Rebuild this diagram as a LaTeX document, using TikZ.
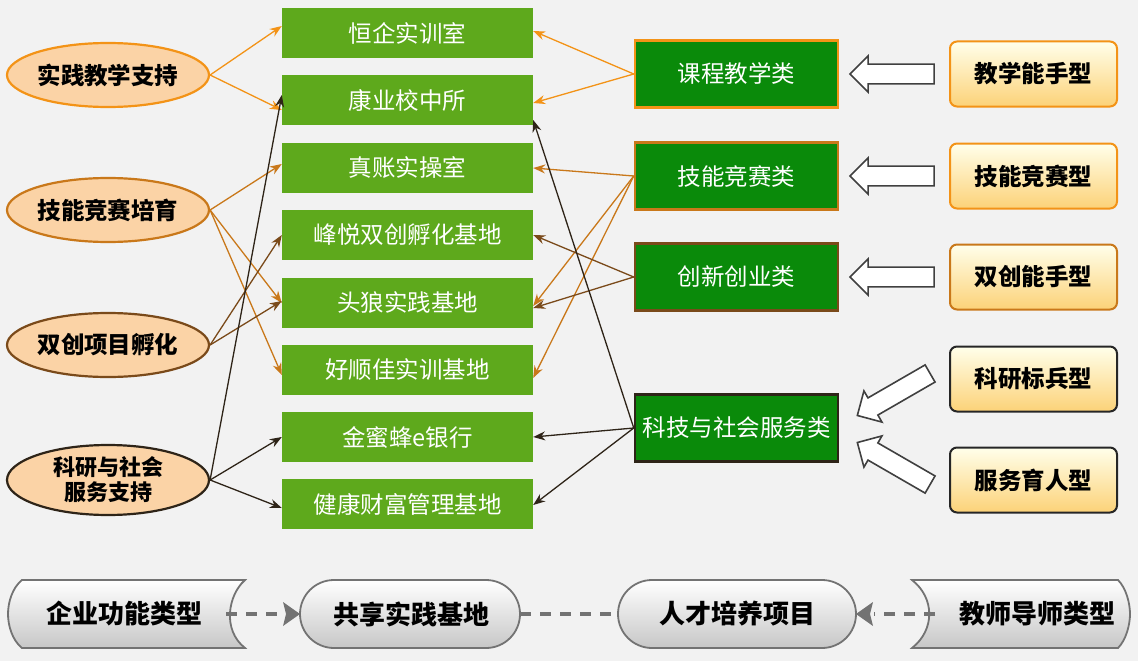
\documentclass[tikz,border=0pt]{standalone}
\usepackage{fontspec}
\setmainfont{Noto Sans CJK SC}
\usetikzlibrary{shapes.arrows,shapes.geometric,arrows.meta}
\definecolor{bg}{HTML}{F2F2F2}
\definecolor{lg}{HTML}{5EA91C}
\definecolor{dg}{HTML}{0A8A0A}
\definecolor{o1}{HTML}{F39317}
\definecolor{o2}{HTML}{C9781A}
\definecolor{o3}{HTML}{7A4A1A}
\definecolor{o4}{HTML}{2E2418}
\definecolor{peach}{HTML}{FBD3A6}
\tikzset{
 cbox/.style={fill=lg,text=white,minimum width=251pt,minimum height=50pt,inner sep=0,font=\fontsize{23.5}{26}\selectfont},
 ell/.style={ellipse,draw=#1,line width=2.2pt,fill=peach,minimum width=202pt,minimum height=64pt,inner sep=0,font=\bfseries\fontsize{23.5}{26}\selectfont,align=center},
 rbox/.style={fill=dg,draw=#1,line width=2.5pt,text=white,minimum width=203pt,minimum height=67pt,inner sep=0,font=\fontsize{23.5}{26}\selectfont},
 ybox/.style={rounded corners=7pt,draw=#1,line width=2pt,top color=yellow!8!white,bottom color={rgb,255:red,252;green,210;blue,120},minimum width=167pt,minimum height=65pt,inner sep=0,font=\bfseries\fontsize{23.5}{26}\selectfont},
 ar/.style={draw=#1,line width=1.3pt,-{Stealth[length=12pt,width=9pt]}},
 hol/.style={single arrow,draw=black!75,line width=1.6pt,fill=white,minimum height=84pt,minimum width=36pt,single arrow head extend=8pt,single arrow tip angle=90,inner sep=9pt},
 gshape/.style={draw=black!55,line width=1.8pt,top color=white,bottom color=black!22},
 gtext/.style={font=\bfseries\fontsize{26}{30}\selectfont,inner sep=0},
 dsh/.style={draw=black!55,line width=4pt,dash pattern=on 11pt off 9pt}
}
\begin{document}
\begin{tikzpicture}[x=1pt,y=-1pt]
\fill[bg] (0,0) rectangle (1138,661);
\useasboundingbox (0,0) rectangle (1138,661);
% center boxes
\node[cbox] (b1) at (407.5,33) {恒企实训室};
\node[cbox] (b2) at (407.5,100) {康业校中所};
\node[cbox] (b3) at (407.5,168) {真账实操室};
\node[cbox] (b4) at (407.5,235) {峰悦双创孵化基地};
\node[cbox] (b5) at (407.5,303) {头狼实践基地};
\node[cbox] (b6) at (407.5,370) {好顺佳实训基地};
\node[cbox] (b7) at (407.5,437) {金蜜蜂e银行};
\node[cbox] (b8) at (407.5,504) {健康财富管理基地};
% left ellipses
\node[ell=o1] (l1) at (108,75) {实践教学支持};
\node[ell=o2] (l2) at (108,210) {技能竞赛培育};
\node[ell=o3] (l3) at (108,345) {双创项目孵化};
\node[ell=o4,minimum height=70pt,font=\bfseries\fontsize{22}{25}\selectfont] (l4) at (108,480) {科研与社会\\服务支持};
% right boxes
\node[rbox=o1] (r1) at (736.5,74) {课程教学类};
\node[rbox=o2] (r2) at (736.5,176) {技能竞赛类};
\node[rbox=o3] (r3) at (736.5,277) {创新创业类};
\node[rbox=o4] (r4) at (736.5,428) {科技与社会服务类};
% far right
\node[ybox=o1] (y1) at (1033.5,74) {教学能手型};
\node[ybox=o1] (y2) at (1033.5,176) {技能竞赛型};
\node[ybox=o2] (y3) at (1033.5,277) {双创能手型};
\node[ybox=black!85] (y4) at (1033.5,379) {科研标兵型};
\node[ybox=black!85] (y5) at (1033.5,480) {服务育人型};
% left arrows
\draw[ar=o1] (l1.east) -- ([yshift=7pt]b1.west);
\draw[ar=o1] (l1.east) -- ([yshift=-10pt]b2.west);
\draw[ar=o2] (l2.east) -- ([yshift=4pt]b3.west);
\draw[ar=o2] (l2.east) -- (b5.west);
\draw[ar=o2] (l2.east) -- ([yshift=-5pt]b6.west);
\draw[ar=o3] (l3.east) -- (b4.west);
\draw[ar=o3] (l3.east) -- ([yshift=2pt]b5.west);
\draw[ar=o4] (l4.east) -- ([yshift=5pt]b2.west);
\draw[ar=o4] (l4.east) -- (b7.west);
\draw[ar=o4] (l4.east) -- ([yshift=-4pt]b8.west);
% right arrows
\draw[ar=o1] (r1.west) -- ([yshift=2pt]b1.east);
\draw[ar=o1] (r1.west) -- ([yshift=-3pt]b2.east);
\draw[ar=o2] (r2.west) -- (b3.east);
\draw[ar=o2] (r2.west) -- ([yshift=-3pt]b5.east);
\draw[ar=o2] (r2.west) -- ([yshift=-8pt]b6.east);
\draw[ar=o3] (r3.west) -- (b4.east);
\draw[ar=o3] (r3.west) -- ([yshift=-5pt]b5.east);
\draw[ar=o4] (r4.west) -- ([yshift=-20pt]b2.east);
\draw[ar=o4] (r4.west) -- (b7.east);
\draw[ar=o4] (r4.west) -- ([yshift=-1pt]b8.east);
% hollow arrows
\node[hol,shape border rotate=180] (h1) at (897,74) {};
\node[hol,shape border rotate=180] (h2) at (897,176) {};
\node[hol,shape border rotate=180] (h3) at (897,277) {};
\node[hol,shape border rotate=180,rotate=30] (h4) at (898,392) {};
\node[hol,shape border rotate=180,rotate=-30] (h5) at (898,466) {};
% bottom row
\path[gshape] (22,580) -- (245,580) .. controls (228,595) and (222,630) .. (245,648) -- (22,648) .. controls (12,640) and (8,625) .. (8,614) .. controls (8,603) and (12,588) .. (22,580) -- cycle;
\node[gtext] (q1) at (124,614) {企业功能类型};
\path[gshape,rounded corners=34pt] (300,580) rectangle (520,648);
\node[gtext] (q2) at (411,614) {共享实践基地};
\path[gshape,rounded corners=34pt] (618,580) rectangle (856,648);
\node[gtext] (q3) at (737,614) {人才培养项目};
\path[gshape] (912,580) -- (1118,580) .. controls (1126,588) and (1130,603) .. (1130,614) .. controls (1130,625) and (1126,640) .. (1118,648) -- (912,648) .. controls (935,630) and (935,598) .. (912,580) -- cycle;
\node[gtext] (q4) at (1037,614) {教师导师类型};
\coordinate (e1) at (226,614); \coordinate (e2) at (300,614);
\coordinate (e3) at (520,614); \coordinate (e4) at (618,614);
\coordinate (e5) at (856,614); \coordinate (e6) at (935,614);
\draw[dsh] (e1) -- (283,614);
\fill[black!55] (e2) -- (283,602) -- (286,614) -- (283,626) -- cycle;
\draw[dsh] (e3) -- (e4);
\draw[dsh] (e6) -- (874,614);
\fill[black!55] (e5) -- (873,602) -- (870,614) -- (873,626) -- cycle;
\end{tikzpicture}
\end{document}
